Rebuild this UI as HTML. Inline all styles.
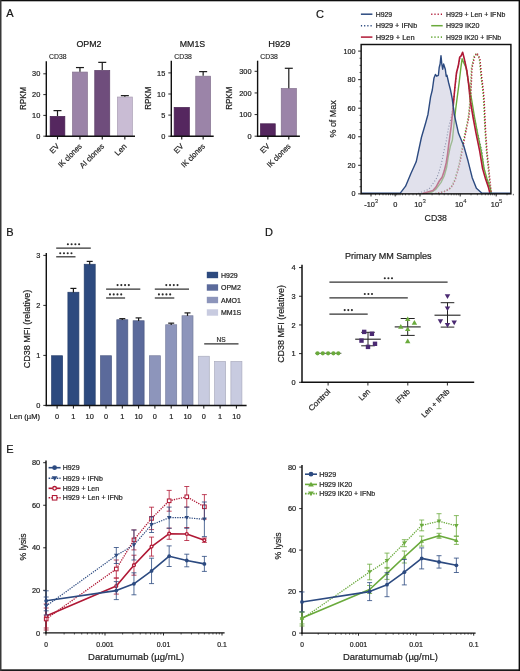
<!DOCTYPE html>
<html><head><meta charset="utf-8"><style>
html,body{margin:0;padding:0;background:#fff;}
svg{display:block;will-change:transform;}
text{font-family:"Liberation Sans", sans-serif;stroke:#222;stroke-width:0.2px;}
</style></head><body>
<svg width="520" height="671" viewBox="0 0 520 671">
<rect x="0" y="0" width="520" height="671" fill="#fff"/>
<text x="6.2" y="17.3" font-size="11" text-anchor="start" fill="#111">A</text>
<line x1="43.3" y1="136.2" x2="46.3" y2="136.2" stroke="#111" stroke-width="0.9"/>
<text x="40.3" y="138.79999999999998" font-size="7.4" text-anchor="end" fill="#222">0</text>
<line x1="43.3" y1="115.39999999999999" x2="46.3" y2="115.39999999999999" stroke="#111" stroke-width="0.9"/>
<text x="40.3" y="117.99999999999999" font-size="7.4" text-anchor="end" fill="#222">10</text>
<line x1="43.3" y1="94.6" x2="46.3" y2="94.6" stroke="#111" stroke-width="0.9"/>
<text x="40.3" y="97.19999999999999" font-size="7.4" text-anchor="end" fill="#222">20</text>
<line x1="43.3" y1="73.79999999999998" x2="46.3" y2="73.79999999999998" stroke="#111" stroke-width="0.9"/>
<text x="40.3" y="76.39999999999998" font-size="7.4" text-anchor="end" fill="#222">30</text>
<rect x="50.15" y="116.37399999999998" width="14.700000000000006" height="19.826" fill="#55275f" stroke="#482150" stroke-width="0.7"/>
<line x1="57.5" y1="110.61599999999999" x2="57.5" y2="116.02399999999999" stroke="#1a1a1a" stroke-width="1.2"/>
<line x1="53.5" y1="110.61599999999999" x2="61.5" y2="110.61599999999999" stroke="#1a1a1a" stroke-width="1.2"/>
<line x1="57.5" y1="136.2" x2="57.5" y2="139.39999999999998" stroke="#111" stroke-width="1.1"/>
<text x="59.9" y="146.79999999999998" font-size="7.8" text-anchor="end" fill="#222" textLength="10" lengthAdjust="spacingAndGlyphs" transform="rotate(-45 59.9 146.79999999999998)">EV</text>
<rect x="72.55" y="72.06999999999998" width="14.8" height="64.13000000000001" fill="#9b84a8" stroke="#83708e" stroke-width="0.7"/>
<line x1="79.95" y1="67.55999999999999" x2="79.95" y2="71.71999999999998" stroke="#1a1a1a" stroke-width="1.2"/>
<line x1="75.95" y1="67.55999999999999" x2="83.95" y2="67.55999999999999" stroke="#1a1a1a" stroke-width="1.2"/>
<line x1="79.95" y1="136.2" x2="79.95" y2="139.39999999999998" stroke="#111" stroke-width="1.1"/>
<text x="82.35000000000001" y="146.79999999999998" font-size="7.8" text-anchor="end" fill="#222" textLength="30" lengthAdjust="spacingAndGlyphs" transform="rotate(-45 82.35000000000001 146.79999999999998)">IK clones</text>
<rect x="94.75" y="70.40599999999998" width="14.99999999999999" height="65.79400000000001" fill="#6f4d7c" stroke="#5e4169" stroke-width="0.7"/>
<line x1="102.25" y1="62.359999999999985" x2="102.25" y2="70.05599999999998" stroke="#1a1a1a" stroke-width="1.2"/>
<line x1="98.25" y1="62.359999999999985" x2="106.25" y2="62.359999999999985" stroke="#1a1a1a" stroke-width="1.2"/>
<line x1="102.25" y1="136.2" x2="102.25" y2="139.39999999999998" stroke="#111" stroke-width="1.1"/>
<text x="104.65" y="146.79999999999998" font-size="7.8" text-anchor="end" fill="#222" textLength="31" lengthAdjust="spacingAndGlyphs" transform="rotate(-45 104.65 146.79999999999998)">AI clones</text>
<rect x="117.35" y="97.02999999999997" width="14.99999999999999" height="39.17000000000001" fill="#c9bcd4" stroke="#aa9fb4" stroke-width="0.7"/>
<line x1="124.85" y1="95.63999999999999" x2="124.85" y2="96.67999999999998" stroke="#1a1a1a" stroke-width="1.2"/>
<line x1="120.85" y1="95.63999999999999" x2="128.85" y2="95.63999999999999" stroke="#1a1a1a" stroke-width="1.2"/>
<line x1="124.85" y1="136.2" x2="124.85" y2="139.39999999999998" stroke="#111" stroke-width="1.1"/>
<text x="127.25" y="146.79999999999998" font-size="7.8" text-anchor="end" fill="#222" textLength="13.5" lengthAdjust="spacingAndGlyphs" transform="rotate(-45 127.25 146.79999999999998)">Len</text>
<line x1="46.3" y1="61.2" x2="46.3" y2="136.89999999999998" stroke="#111" stroke-width="1.4"/>
<line x1="45.599999999999994" y1="136.2" x2="135" y2="136.2" stroke="#111" stroke-width="1.45"/>
<text x="76.4" y="47.3" font-size="9.6" text-anchor="start" fill="#111" textLength="25.1" lengthAdjust="spacingAndGlyphs">OPM2</text>
<text x="49" y="58.8" font-size="6.6" text-anchor="start" fill="#222" textLength="17.5" lengthAdjust="spacingAndGlyphs" style="stroke-width:0.12px">CD38</text>
<text x="25.7" y="98.4" font-size="8.6" text-anchor="middle" fill="#222" textLength="23.2" lengthAdjust="spacingAndGlyphs" transform="rotate(-90 25.7 98.4)">RPKM</text>
<line x1="168.3" y1="136.2" x2="171.3" y2="136.2" stroke="#111" stroke-width="0.9"/>
<text x="165.3" y="138.79999999999998" font-size="7.4" text-anchor="end" fill="#222">0</text>
<line x1="168.3" y1="115.1" x2="171.3" y2="115.1" stroke="#111" stroke-width="0.9"/>
<text x="165.3" y="117.69999999999999" font-size="7.4" text-anchor="end" fill="#222">5</text>
<line x1="168.3" y1="94.0" x2="171.3" y2="94.0" stroke="#111" stroke-width="0.9"/>
<text x="165.3" y="96.6" font-size="7.4" text-anchor="end" fill="#222">10</text>
<line x1="168.3" y1="72.89999999999999" x2="171.3" y2="72.89999999999999" stroke="#111" stroke-width="0.9"/>
<text x="165.3" y="75.49999999999999" font-size="7.4" text-anchor="end" fill="#222">15</text>
<rect x="174.15" y="107.43199999999999" width="15.199999999999978" height="28.767999999999994" fill="#55275f" stroke="#482150" stroke-width="0.7"/>
<line x1="181.75" y1="136.2" x2="181.75" y2="139.39999999999998" stroke="#111" stroke-width="1.1"/>
<text x="184.15" y="146.79999999999998" font-size="7.8" text-anchor="end" fill="#222" textLength="10" lengthAdjust="spacingAndGlyphs" transform="rotate(-45 184.15 146.79999999999998)">EV</text>
<rect x="195.75" y="76.20399999999998" width="14.8" height="59.996" fill="#9b84a8" stroke="#83708e" stroke-width="0.7"/>
<line x1="203.15" y1="71.63399999999999" x2="203.15" y2="75.85399999999998" stroke="#1a1a1a" stroke-width="1.2"/>
<line x1="199.15" y1="71.63399999999999" x2="207.15" y2="71.63399999999999" stroke="#1a1a1a" stroke-width="1.2"/>
<line x1="203.15" y1="136.2" x2="203.15" y2="139.39999999999998" stroke="#111" stroke-width="1.1"/>
<text x="205.55" y="146.79999999999998" font-size="7.8" text-anchor="end" fill="#222" textLength="30" lengthAdjust="spacingAndGlyphs" transform="rotate(-45 205.55 146.79999999999998)">IK clones</text>
<line x1="171.3" y1="60.7" x2="171.3" y2="136.89999999999998" stroke="#111" stroke-width="1.4"/>
<line x1="170.60000000000002" y1="136.2" x2="213.7" y2="136.2" stroke="#111" stroke-width="1.45"/>
<text x="179.8" y="47.3" font-size="9.6" text-anchor="start" fill="#111" textLength="25.4" lengthAdjust="spacingAndGlyphs">MM1S</text>
<text x="174.3" y="58.8" font-size="6.6" text-anchor="start" fill="#222" textLength="17.5" lengthAdjust="spacingAndGlyphs" style="stroke-width:0.12px">CD38</text>
<text x="150.8" y="98.2" font-size="8.6" text-anchor="middle" fill="#222" textLength="23.2" lengthAdjust="spacingAndGlyphs" transform="rotate(-90 150.8 98.2)">RPKM</text>
<line x1="254.60000000000002" y1="136.2" x2="257.6" y2="136.2" stroke="#111" stroke-width="0.9"/>
<text x="251.60000000000002" y="138.79999999999998" font-size="7.4" text-anchor="end" fill="#222">0</text>
<line x1="254.60000000000002" y1="114.57" x2="257.6" y2="114.57" stroke="#111" stroke-width="0.9"/>
<text x="251.60000000000002" y="117.16999999999999" font-size="7.4" text-anchor="end" fill="#222">100</text>
<line x1="254.60000000000002" y1="92.94" x2="257.6" y2="92.94" stroke="#111" stroke-width="0.9"/>
<text x="251.60000000000002" y="95.53999999999999" font-size="7.4" text-anchor="end" fill="#222">200</text>
<line x1="254.60000000000002" y1="71.30999999999999" x2="257.6" y2="71.30999999999999" stroke="#111" stroke-width="0.9"/>
<text x="251.60000000000002" y="73.90999999999998" font-size="7.4" text-anchor="end" fill="#222">300</text>
<rect x="260.45000000000005" y="123.78829999999998" width="14.8" height="12.411700000000005" fill="#55275f" stroke="#482150" stroke-width="0.7"/>
<line x1="267.85" y1="136.2" x2="267.85" y2="139.39999999999998" stroke="#111" stroke-width="1.1"/>
<text x="270.25" y="146.79999999999998" font-size="7.8" text-anchor="end" fill="#222" textLength="10" lengthAdjust="spacingAndGlyphs" transform="rotate(-45 270.25 146.79999999999998)">EV</text>
<rect x="281.25" y="88.53139999999999" width="15.100000000000012" height="47.66859999999999" fill="#9b84a8" stroke="#83708e" stroke-width="0.7"/>
<line x1="288.79999999999995" y1="68.28179999999999" x2="288.79999999999995" y2="88.1814" stroke="#1a1a1a" stroke-width="1.2"/>
<line x1="284.79999999999995" y1="68.28179999999999" x2="292.79999999999995" y2="68.28179999999999" stroke="#1a1a1a" stroke-width="1.2"/>
<line x1="288.79999999999995" y1="136.2" x2="288.79999999999995" y2="139.39999999999998" stroke="#111" stroke-width="1.1"/>
<text x="291.19999999999993" y="146.79999999999998" font-size="7.8" text-anchor="end" fill="#222" textLength="30" lengthAdjust="spacingAndGlyphs" transform="rotate(-45 291.19999999999993 146.79999999999998)">IK clones</text>
<line x1="257.6" y1="60.7" x2="257.6" y2="136.89999999999998" stroke="#111" stroke-width="1.4"/>
<line x1="256.90000000000003" y1="136.2" x2="299.9" y2="136.2" stroke="#111" stroke-width="1.45"/>
<text x="268.2" y="47.3" font-size="9.6" text-anchor="start" fill="#111" textLength="22.2" lengthAdjust="spacingAndGlyphs">H929</text>
<text x="260.3" y="58.8" font-size="6.6" text-anchor="start" fill="#222" textLength="17.5" lengthAdjust="spacingAndGlyphs" style="stroke-width:0.12px">CD38</text>
<text x="232.2" y="98.2" font-size="8.6" text-anchor="middle" fill="#222" textLength="23.2" lengthAdjust="spacingAndGlyphs" transform="rotate(-90 232.2 98.2)">RPKM</text>
<text x="6.3" y="236.2" font-size="11" text-anchor="start" fill="#111">B</text>
<line x1="43.3" y1="405.4" x2="46.3" y2="405.4" stroke="#111" stroke-width="0.9"/>
<text x="40.4" y="408.0" font-size="7.4" text-anchor="end" fill="#222">0</text>
<line x1="43.3" y1="355.4" x2="46.3" y2="355.4" stroke="#111" stroke-width="0.9"/>
<text x="40.4" y="358.0" font-size="7.4" text-anchor="end" fill="#222">1</text>
<line x1="43.3" y1="305.4" x2="46.3" y2="305.4" stroke="#111" stroke-width="0.9"/>
<text x="40.4" y="308.0" font-size="7.4" text-anchor="end" fill="#222">2</text>
<line x1="43.3" y1="255.39999999999998" x2="46.3" y2="255.39999999999998" stroke="#111" stroke-width="0.9"/>
<text x="40.4" y="258.0" font-size="7.4" text-anchor="end" fill="#222">3</text>
<text x="30.0" y="329.0" font-size="8.8" text-anchor="middle" fill="#222" textLength="78.7" lengthAdjust="spacingAndGlyphs" transform="rotate(-90 30.0 329.0)">CD38 MFI (relative)</text>
<text x="9.5" y="418.8" font-size="7.8" text-anchor="start" fill="#222" textLength="30.5" lengthAdjust="spacingAndGlyphs">Len (µM)</text>
<rect x="51.6" y="355.75" width="11.0" height="49.65" fill="#2d4a7f" stroke="#263e6b" stroke-width="0.7"/>
<line x1="57.1" y1="405.4" x2="57.1" y2="408.59999999999997" stroke="#111" stroke-width="1.0"/>
<text x="57.1" y="418.8" font-size="7.4" text-anchor="middle" fill="#222">0</text>
<rect x="67.9" y="292.25" width="11.0" height="113.15" fill="#2d4a7f" stroke="#263e6b" stroke-width="0.7"/>
<line x1="73.4" y1="288.4" x2="73.4" y2="292.4" stroke="#1a1a1a" stroke-width="1.2"/>
<line x1="70.4" y1="288.4" x2="76.4" y2="288.4" stroke="#1a1a1a" stroke-width="1.2"/>
<line x1="73.4" y1="405.4" x2="73.4" y2="408.59999999999997" stroke="#111" stroke-width="1.0"/>
<text x="73.4" y="418.8" font-size="7.4" text-anchor="middle" fill="#222">1</text>
<rect x="84.2" y="264.25" width="11.0" height="141.15" fill="#2d4a7f" stroke="#263e6b" stroke-width="0.7"/>
<line x1="89.7" y1="261.4" x2="89.7" y2="264.4" stroke="#1a1a1a" stroke-width="1.2"/>
<line x1="86.7" y1="261.4" x2="92.7" y2="261.4" stroke="#1a1a1a" stroke-width="1.2"/>
<line x1="89.7" y1="405.4" x2="89.7" y2="408.59999999999997" stroke="#111" stroke-width="1.0"/>
<text x="89.7" y="418.8" font-size="7.4" text-anchor="middle" fill="#222">10</text>
<rect x="100.5" y="355.75" width="11.0" height="49.65" fill="#5b6a9b" stroke="#4d5a83" stroke-width="0.7"/>
<line x1="106.0" y1="405.4" x2="106.0" y2="408.59999999999997" stroke="#111" stroke-width="1.0"/>
<text x="106.0" y="418.8" font-size="7.4" text-anchor="middle" fill="#222">0</text>
<rect x="116.80000000000001" y="319.75" width="11.0" height="85.65" fill="#5b6a9b" stroke="#4d5a83" stroke-width="0.7"/>
<line x1="122.30000000000001" y1="318.65" x2="122.30000000000001" y2="319.9" stroke="#1a1a1a" stroke-width="1.2"/>
<line x1="119.30000000000001" y1="318.65" x2="125.30000000000001" y2="318.65" stroke="#1a1a1a" stroke-width="1.2"/>
<line x1="122.30000000000001" y1="405.4" x2="122.30000000000001" y2="408.59999999999997" stroke="#111" stroke-width="1.0"/>
<text x="122.30000000000001" y="418.8" font-size="7.4" text-anchor="middle" fill="#222">1</text>
<rect x="133.1" y="320.75" width="11.0" height="84.65" fill="#5b6a9b" stroke="#4d5a83" stroke-width="0.7"/>
<line x1="138.6" y1="317.9" x2="138.6" y2="320.9" stroke="#1a1a1a" stroke-width="1.2"/>
<line x1="135.6" y1="317.9" x2="141.6" y2="317.9" stroke="#1a1a1a" stroke-width="1.2"/>
<line x1="138.6" y1="405.4" x2="138.6" y2="408.59999999999997" stroke="#111" stroke-width="1.0"/>
<text x="138.6" y="418.8" font-size="7.4" text-anchor="middle" fill="#222">10</text>
<rect x="149.4" y="355.75" width="11.0" height="49.65" fill="#8d95bb" stroke="#777e9e" stroke-width="0.7"/>
<line x1="154.9" y1="405.4" x2="154.9" y2="408.59999999999997" stroke="#111" stroke-width="1.0"/>
<text x="154.9" y="418.8" font-size="7.4" text-anchor="middle" fill="#222">0</text>
<rect x="165.70000000000002" y="324.75" width="11.0" height="80.65" fill="#8d95bb" stroke="#777e9e" stroke-width="0.7"/>
<line x1="171.20000000000002" y1="323.15" x2="171.20000000000002" y2="324.9" stroke="#1a1a1a" stroke-width="1.2"/>
<line x1="168.20000000000002" y1="323.15" x2="174.20000000000002" y2="323.15" stroke="#1a1a1a" stroke-width="1.2"/>
<line x1="171.20000000000002" y1="405.4" x2="171.20000000000002" y2="408.59999999999997" stroke="#111" stroke-width="1.0"/>
<text x="171.20000000000002" y="418.8" font-size="7.4" text-anchor="middle" fill="#222">1</text>
<rect x="182.0" y="315.75" width="11.0" height="89.65" fill="#8d95bb" stroke="#777e9e" stroke-width="0.7"/>
<line x1="187.5" y1="312.9" x2="187.5" y2="315.9" stroke="#1a1a1a" stroke-width="1.2"/>
<line x1="184.5" y1="312.9" x2="190.5" y2="312.9" stroke="#1a1a1a" stroke-width="1.2"/>
<line x1="187.5" y1="405.4" x2="187.5" y2="408.59999999999997" stroke="#111" stroke-width="1.0"/>
<text x="187.5" y="418.8" font-size="7.4" text-anchor="middle" fill="#222">10</text>
<rect x="198.3" y="356.25" width="11.0" height="49.15" fill="#c8cbe0" stroke="#aaacbe" stroke-width="0.7"/>
<line x1="203.8" y1="405.4" x2="203.8" y2="408.59999999999997" stroke="#111" stroke-width="1.0"/>
<text x="203.8" y="418.8" font-size="7.4" text-anchor="middle" fill="#222">0</text>
<rect x="214.6" y="361.5" width="11.0" height="43.9" fill="#c8cbe0" stroke="#aaacbe" stroke-width="0.7"/>
<line x1="220.1" y1="405.4" x2="220.1" y2="408.59999999999997" stroke="#111" stroke-width="1.0"/>
<text x="220.1" y="418.8" font-size="7.4" text-anchor="middle" fill="#222">1</text>
<rect x="230.9" y="361.5" width="11.0" height="43.9" fill="#c8cbe0" stroke="#aaacbe" stroke-width="0.7"/>
<line x1="236.4" y1="405.4" x2="236.4" y2="408.59999999999997" stroke="#111" stroke-width="1.0"/>
<text x="236.4" y="418.8" font-size="7.4" text-anchor="middle" fill="#222">10</text>
<line x1="46.3" y1="253.0" x2="46.3" y2="406.09999999999997" stroke="#111" stroke-width="1.45"/>
<line x1="45.599999999999994" y1="405.4" x2="246.6" y2="405.4" stroke="#111" stroke-width="1.45"/>
<line x1="56.2" y1="248.2" x2="90.8" y2="248.2" stroke="#333" stroke-width="1.25"/>
<line x1="56.2" y1="256.8" x2="75.5" y2="256.8" stroke="#333" stroke-width="1.25"/>
<circle cx="67.88" cy="244.29999999999998" r="1.05" fill="#2a2a2a"/>
<circle cx="71.62" cy="244.29999999999998" r="1.05" fill="#2a2a2a"/>
<circle cx="75.38" cy="244.29999999999998" r="1.05" fill="#2a2a2a"/>
<circle cx="79.12" cy="244.29999999999998" r="1.05" fill="#2a2a2a"/>
<circle cx="60.22" cy="253.20000000000002" r="1.05" fill="#2a2a2a"/>
<circle cx="63.97" cy="253.20000000000002" r="1.05" fill="#2a2a2a"/>
<circle cx="67.72" cy="253.20000000000002" r="1.05" fill="#2a2a2a"/>
<circle cx="71.47" cy="253.20000000000002" r="1.05" fill="#2a2a2a"/>
<line x1="106.1" y1="289.0" x2="140.3" y2="289.0" stroke="#333" stroke-width="1.25"/>
<line x1="106.1" y1="298.0" x2="125.1" y2="298.0" stroke="#333" stroke-width="1.25"/>
<circle cx="117.58" cy="285.1" r="1.05" fill="#2a2a2a"/>
<circle cx="121.33" cy="285.1" r="1.05" fill="#2a2a2a"/>
<circle cx="125.08" cy="285.1" r="1.05" fill="#2a2a2a"/>
<circle cx="128.82" cy="285.1" r="1.05" fill="#2a2a2a"/>
<circle cx="109.97" cy="294.4" r="1.05" fill="#2a2a2a"/>
<circle cx="113.72" cy="294.4" r="1.05" fill="#2a2a2a"/>
<circle cx="117.47" cy="294.4" r="1.05" fill="#2a2a2a"/>
<circle cx="121.22" cy="294.4" r="1.05" fill="#2a2a2a"/>
<line x1="154.8" y1="289.0" x2="189" y2="289.0" stroke="#333" stroke-width="1.25"/>
<line x1="154.8" y1="298.0" x2="174.3" y2="298.0" stroke="#333" stroke-width="1.25"/>
<circle cx="166.28" cy="285.1" r="1.05" fill="#2a2a2a"/>
<circle cx="170.03" cy="285.1" r="1.05" fill="#2a2a2a"/>
<circle cx="173.78" cy="285.1" r="1.05" fill="#2a2a2a"/>
<circle cx="177.53" cy="285.1" r="1.05" fill="#2a2a2a"/>
<circle cx="158.93" cy="294.4" r="1.05" fill="#2a2a2a"/>
<circle cx="162.68" cy="294.4" r="1.05" fill="#2a2a2a"/>
<circle cx="166.43" cy="294.4" r="1.05" fill="#2a2a2a"/>
<circle cx="170.18" cy="294.4" r="1.05" fill="#2a2a2a"/>
<line x1="204.2" y1="343.9" x2="238.5" y2="343.9" stroke="#333" stroke-width="1.25"/>
<text x="221.2" y="341.6" font-size="6.6" text-anchor="middle" fill="#333">NS</text>
<rect x="206.8" y="271.8" width="11.3" height="6.4" fill="#2d4a7f"/>
<text x="221.0" y="277.5" font-size="7.0" text-anchor="start" fill="#222">H929</text>
<rect x="206.8" y="284.3" width="11.3" height="6.4" fill="#5b6a9b"/>
<text x="221.0" y="290.0" font-size="7.0" text-anchor="start" fill="#222">OPM2</text>
<rect x="206.8" y="296.8" width="11.3" height="6.4" fill="#8d95bb"/>
<text x="221.0" y="302.5" font-size="7.0" text-anchor="start" fill="#222">AMO1</text>
<rect x="206.8" y="309.3" width="11.3" height="6.4" fill="#c8cbe0"/>
<text x="221.0" y="315.0" font-size="7.0" text-anchor="start" fill="#222">MM1S</text>
<text x="315.9" y="17.5" font-size="11" text-anchor="start" fill="#111">C</text>
<line x1="358.15" y1="193.85" x2="361.15" y2="193.85" stroke="#111" stroke-width="0.9"/>
<text x="355.6" y="196.35" font-size="7.2" text-anchor="end" fill="#222">0</text>
<line x1="359.54999999999995" y1="186.7125" x2="361.15" y2="186.7125" stroke="#111" stroke-width="0.7"/>
<line x1="359.54999999999995" y1="179.575" x2="361.15" y2="179.575" stroke="#111" stroke-width="0.7"/>
<line x1="359.54999999999995" y1="172.4375" x2="361.15" y2="172.4375" stroke="#111" stroke-width="0.7"/>
<line x1="358.15" y1="165.29999999999998" x2="361.15" y2="165.29999999999998" stroke="#111" stroke-width="0.9"/>
<text x="355.6" y="167.79999999999998" font-size="7.2" text-anchor="end" fill="#222">20</text>
<line x1="359.54999999999995" y1="158.1625" x2="361.15" y2="158.1625" stroke="#111" stroke-width="0.7"/>
<line x1="359.54999999999995" y1="151.02499999999998" x2="361.15" y2="151.02499999999998" stroke="#111" stroke-width="0.7"/>
<line x1="359.54999999999995" y1="143.8875" x2="361.15" y2="143.8875" stroke="#111" stroke-width="0.7"/>
<line x1="358.15" y1="136.75" x2="361.15" y2="136.75" stroke="#111" stroke-width="0.9"/>
<text x="355.6" y="139.25" font-size="7.2" text-anchor="end" fill="#222">40</text>
<line x1="359.54999999999995" y1="129.6125" x2="361.15" y2="129.6125" stroke="#111" stroke-width="0.7"/>
<line x1="359.54999999999995" y1="122.475" x2="361.15" y2="122.475" stroke="#111" stroke-width="0.7"/>
<line x1="359.54999999999995" y1="115.33749999999999" x2="361.15" y2="115.33749999999999" stroke="#111" stroke-width="0.7"/>
<line x1="358.15" y1="108.19999999999999" x2="361.15" y2="108.19999999999999" stroke="#111" stroke-width="0.9"/>
<text x="355.6" y="110.69999999999999" font-size="7.2" text-anchor="end" fill="#222">60</text>
<line x1="359.54999999999995" y1="101.0625" x2="361.15" y2="101.0625" stroke="#111" stroke-width="0.7"/>
<line x1="359.54999999999995" y1="93.925" x2="361.15" y2="93.925" stroke="#111" stroke-width="0.7"/>
<line x1="359.54999999999995" y1="86.7875" x2="361.15" y2="86.7875" stroke="#111" stroke-width="0.7"/>
<line x1="358.15" y1="79.64999999999999" x2="361.15" y2="79.64999999999999" stroke="#111" stroke-width="0.9"/>
<text x="355.6" y="82.14999999999999" font-size="7.2" text-anchor="end" fill="#222">80</text>
<line x1="359.54999999999995" y1="72.51249999999999" x2="361.15" y2="72.51249999999999" stroke="#111" stroke-width="0.7"/>
<line x1="359.54999999999995" y1="65.375" x2="361.15" y2="65.375" stroke="#111" stroke-width="0.7"/>
<line x1="359.54999999999995" y1="58.23749999999998" x2="361.15" y2="58.23749999999998" stroke="#111" stroke-width="0.7"/>
<line x1="358.15" y1="51.099999999999994" x2="361.15" y2="51.099999999999994" stroke="#111" stroke-width="0.9"/>
<text x="355.6" y="53.599999999999994" font-size="7.2" text-anchor="end" fill="#222">100</text>
<text x="336.3" y="118.9" font-size="9.2" text-anchor="middle" fill="#222" textLength="37.3" lengthAdjust="spacingAndGlyphs" transform="rotate(-90 336.3 118.9)">% of Max</text>
<line x1="371.0" y1="193.85" x2="371.0" y2="196.45" stroke="#111" stroke-width="0.9"/>
<line x1="395.2" y1="193.85" x2="395.2" y2="196.45" stroke="#111" stroke-width="0.9"/>
<line x1="420.0" y1="193.85" x2="420.0" y2="196.45" stroke="#111" stroke-width="0.9"/>
<line x1="460.2" y1="193.85" x2="460.2" y2="196.45" stroke="#111" stroke-width="0.9"/>
<line x1="496.2" y1="193.85" x2="496.2" y2="196.45" stroke="#111" stroke-width="0.9"/>
<line x1="375.5" y1="193.85" x2="375.5" y2="195.35" stroke="#111" stroke-width="0.6"/>
<line x1="379.5" y1="193.85" x2="379.5" y2="195.35" stroke="#111" stroke-width="0.6"/>
<line x1="383" y1="193.85" x2="383" y2="195.35" stroke="#111" stroke-width="0.6"/>
<line x1="386" y1="193.85" x2="386" y2="195.35" stroke="#111" stroke-width="0.6"/>
<line x1="388.5" y1="193.85" x2="388.5" y2="195.35" stroke="#111" stroke-width="0.6"/>
<line x1="390.5" y1="193.85" x2="390.5" y2="195.35" stroke="#111" stroke-width="0.6"/>
<line x1="392.5" y1="193.85" x2="392.5" y2="195.35" stroke="#111" stroke-width="0.6"/>
<line x1="394" y1="193.85" x2="394" y2="195.35" stroke="#111" stroke-width="0.6"/>
<line x1="396.5" y1="193.85" x2="396.5" y2="195.35" stroke="#111" stroke-width="0.6"/>
<line x1="398" y1="193.85" x2="398" y2="195.35" stroke="#111" stroke-width="0.6"/>
<line x1="400" y1="193.85" x2="400" y2="195.35" stroke="#111" stroke-width="0.6"/>
<line x1="402.5" y1="193.85" x2="402.5" y2="195.35" stroke="#111" stroke-width="0.6"/>
<line x1="405.5" y1="193.85" x2="405.5" y2="195.35" stroke="#111" stroke-width="0.6"/>
<line x1="409" y1="193.85" x2="409" y2="195.35" stroke="#111" stroke-width="0.6"/>
<line x1="413" y1="193.85" x2="413" y2="195.35" stroke="#111" stroke-width="0.6"/>
<line x1="416.5" y1="193.85" x2="416.5" y2="195.35" stroke="#111" stroke-width="0.6"/>
<line x1="432.10140582569204" y1="193.85" x2="432.10140582569204" y2="195.35" stroke="#111" stroke-width="0.6"/>
<line x1="471.0370798439033" y1="193.85" x2="471.0370798439033" y2="195.35" stroke="#111" stroke-width="0.6"/>
<line x1="439.18027443973045" y1="193.85" x2="439.18027443973045" y2="195.35" stroke="#111" stroke-width="0.6"/>
<line x1="477.37636516990784" y1="193.85" x2="477.37636516990784" y2="195.35" stroke="#111" stroke-width="0.6"/>
<line x1="444.2028116513841" y1="193.85" x2="444.2028116513841" y2="195.35" stroke="#111" stroke-width="0.6"/>
<line x1="481.87415968780664" y1="193.85" x2="481.87415968780664" y2="195.35" stroke="#111" stroke-width="0.6"/>
<line x1="448.09859417430795" y1="193.85" x2="448.09859417430795" y2="195.35" stroke="#111" stroke-width="0.6"/>
<line x1="485.36292015609666" y1="193.85" x2="485.36292015609666" y2="195.35" stroke="#111" stroke-width="0.6"/>
<line x1="451.2816802654225" y1="193.85" x2="451.2816802654225" y2="195.35" stroke="#111" stroke-width="0.6"/>
<line x1="488.21344501381117" y1="193.85" x2="488.21344501381117" y2="195.35" stroke="#111" stroke-width="0.6"/>
<line x1="453.9729412085731" y1="193.85" x2="453.9729412085731" y2="195.35" stroke="#111" stroke-width="0.6"/>
<line x1="490.6235294405132" y1="193.85" x2="490.6235294405132" y2="195.35" stroke="#111" stroke-width="0.6"/>
<line x1="456.3042174770761" y1="193.85" x2="456.3042174770761" y2="195.35" stroke="#111" stroke-width="0.6"/>
<line x1="492.71123953170996" y1="193.85" x2="492.71123953170996" y2="195.35" stroke="#111" stroke-width="0.6"/>
<line x1="458.36054887946085" y1="193.85" x2="458.36054887946085" y2="195.35" stroke="#111" stroke-width="0.6"/>
<line x1="494.5527303398157" y1="193.85" x2="494.5527303398157" y2="195.35" stroke="#111" stroke-width="0.6"/>
<line x1="507.0370798439033" y1="193.85" x2="507.0370798439033" y2="195.35" stroke="#111" stroke-width="0.6"/>
<line x1="513.3763651699078" y1="193.85" x2="513.3763651699078" y2="195.35" stroke="#111" stroke-width="0.6"/>
<text x="371.2" y="206.6" font-size="7.4" text-anchor="middle" fill="#222">-10<tspan font-size="6.0" dy="-3.2" style="stroke-width:0.05px">3</tspan></text>
<text x="395.2" y="206.6" font-size="7.4" text-anchor="middle" fill="#222">0</text>
<text x="420.0" y="206.6" font-size="7.4" text-anchor="middle" fill="#222">10<tspan font-size="6.0" dy="-3.2" style="stroke-width:0.05px">3</tspan></text>
<text x="460.8" y="206.6" font-size="7.4" text-anchor="middle" fill="#222">10<tspan font-size="6.0" dy="-3.2" style="stroke-width:0.05px">4</tspan></text>
<text x="496.6" y="206.6" font-size="7.4" text-anchor="middle" fill="#222">10<tspan font-size="6.0" dy="-3.2" style="stroke-width:0.05px">5</tspan></text>
<text x="424.6" y="221.0" font-size="9.8" text-anchor="start" fill="#222" textLength="22.3" lengthAdjust="spacingAndGlyphs">CD38</text>
<line x1="360.9" y1="14.2" x2="372.4" y2="14.2" stroke="#2c4a80" stroke-width="1.5"/>
<text x="375.7" y="16.7" font-size="7.0" text-anchor="start" fill="#222" textLength="16.5" lengthAdjust="spacingAndGlyphs">H929</text>
<line x1="360.9" y1="25.7" x2="372.4" y2="25.7" stroke="#2c4a80" stroke-width="1.6" stroke-dasharray="1.2 2.0"/>
<text x="375.7" y="28.2" font-size="7.0" text-anchor="start" fill="#222" textLength="41.5" lengthAdjust="spacingAndGlyphs">H929 + IFNb</text>
<line x1="360.9" y1="37.1" x2="372.4" y2="37.1" stroke="#b01835" stroke-width="1.5"/>
<text x="375.7" y="39.6" font-size="7.0" text-anchor="start" fill="#222" textLength="39" lengthAdjust="spacingAndGlyphs">H929 + Len</text>
<line x1="431.2" y1="14.2" x2="442.7" y2="14.2" stroke="#b01835" stroke-width="1.6" stroke-dasharray="1.2 2.0"/>
<text x="446.0" y="16.7" font-size="7.0" text-anchor="start" fill="#222" textLength="59.3" lengthAdjust="spacingAndGlyphs">H929 + Len + IFNb</text>
<line x1="431.2" y1="25.7" x2="442.7" y2="25.7" stroke="#6aaa3c" stroke-width="1.5"/>
<text x="446.0" y="28.2" font-size="7.0" text-anchor="start" fill="#222" textLength="33.5" lengthAdjust="spacingAndGlyphs">H929 IK20</text>
<line x1="431.2" y1="37.1" x2="442.7" y2="37.1" stroke="#6aaa3c" stroke-width="1.6" stroke-dasharray="1.2 2.0"/>
<text x="446.0" y="39.6" font-size="7.0" text-anchor="start" fill="#222" textLength="55" lengthAdjust="spacingAndGlyphs">H929 IK20 + IFNb</text>
<polyline points="418.3,193.4 428.8,189.3 436.0,179.3 438.5,173.6 441.3,163.8 442.6,158.0 443.8,151.5 446.2,141.2 448.5,128.0 452.1,114.2 454.8,90.0 456.5,74.0 458.3,66.0 460.0,58.0 462.6,53.0 464.3,59.0 466.9,71.0 468.7,84.8 471.5,108.0 474.6,119.0 478.0,135.0 481.9,151.0 484.0,168.0 488.6,188.3 490.5,193.4" fill="none" stroke="#3c4a6a" stroke-width="1.1" stroke-linejoin="round" stroke-dasharray="1 2"/>
<polyline points="426.0,193.4 432.0,192.0 436.0,189.2 440.9,182.6 444.2,176.0 446.7,167.0 448.3,156.4 450.3,146.6 452.4,140.0 453.8,126.0 455.7,109.0 459.1,83.0 460.9,67.5 462.1,58.8 463.5,62.3 466.0,67.5 468.7,83.0 471.7,100.0 474.6,117.5 477.6,133.6 481.2,151.1 484.1,168.6 487.0,178.8 490.0,187.6 491.4,193.3" fill="none" stroke="#6aaa3c" stroke-width="1.4" stroke-linejoin="round"/>
<polyline points="422.5,193.4 433.1,190.4 436.0,187.1 439.3,181.0 442.1,177.3 444.2,171.1 446.2,163.0 447.5,154.8 448.7,144.9 451.1,126.9 453.1,107.3 454.8,88.3 456.5,72.7 458.3,65.8 459.7,57.1 460.9,56.2 462.6,52.3 464.3,58.8 466.9,71.0 468.7,84.8 470.2,100.0 473.1,117.5 476.1,133.6 479.7,151.1 482.6,168.6 485.5,178.8 488.5,187.6 489.9,193.3" fill="none" stroke="#b01835" stroke-width="1.6" stroke-linejoin="round"/>
<polyline points="435.5,193.3 440.4,192.5 443.7,191.6 447.0,190.0 450.3,188.0 452.3,185.1 453.9,181.8 455.2,178.5 456.0,175.2 457.0,172.4 458.0,168.3 458.9,165.0 459.7,161.3 460.5,157.2 462.4,146.7 465.3,132.1 468.3,117.5 470.0,100.0 471.6,67.5 474.2,56.2 476.5,53.3 478.2,56.2 479.4,58.8 481.1,76.2 482.9,91.7 483.6,100.0 485.0,129.2 486.5,151.1 488.0,165.7 489.4,180.3 490.9,193.3" fill="none" stroke="#6aaa3c" stroke-width="1.5" stroke-linejoin="round" stroke-dasharray="1.1 1.9"/>
<polyline points="436.0,193.3 440.9,192.5 444.2,191.6 447.5,190.0 450.8,188.0 452.8,185.1 454.4,181.8 455.7,178.5 456.5,175.2 457.5,172.4 458.5,168.3 459.4,165.0 460.2,161.3 461.0,157.2 462.9,146.7 465.8,132.1 468.8,117.5 470.5,100.0 472.1,67.5 474.7,56.2 477.0,53.3 478.7,56.2 479.9,58.8 481.6,76.2 483.4,91.7 484.1,100.0 485.5,129.2 487.0,151.1 488.5,165.7 489.9,180.3 491.4,193.3" fill="none" stroke="#b01835" stroke-width="1.5" stroke-dasharray="1.1 1.9" stroke-dashoffset="1.0"/>
<polygon points="361.5,193.3 398.0,193.3 400.3,193.2 405.6,186.2 410.9,173.5 416.2,161.8 421.4,137.5 425.7,122.7 428.0,114.2 430.6,96.9 432.3,90.0 434.0,77.9 435.4,74.4 436.6,76.2 438.4,75.3 439.2,67.5 440.1,64.0 441.0,55.7 441.8,64.0 442.7,69.2 443.6,64.0 445.3,69.2 446.2,76.2 447.0,75.3 448.7,83.0 450.5,90.0 452.2,98.7 453.9,110.8 454.2,114.2 458.5,133.3 463.8,146.0 468.0,160.8 472.2,177.7 476.4,188.3 481.7,193.1 510.5,193.3" fill="#c8c8dc" fill-opacity="0.55" stroke="none"/>
<polyline points="361.5,193.3 398.0,193.3 400.3,193.2 405.6,186.2 410.9,173.5 416.2,161.8 421.4,137.5 425.7,122.7 428.0,114.2 430.6,96.9 432.3,90.0 434.0,77.9 435.4,74.4 436.6,76.2 438.4,75.3 439.2,67.5 440.1,64.0 441.0,55.7 441.8,64.0 442.7,69.2 443.6,64.0 445.3,69.2 446.2,76.2 447.0,75.3 448.7,83.0 450.5,90.0 452.2,98.7 453.9,110.8 454.2,114.2 458.5,133.3 463.8,146.0 468.0,160.8 472.2,177.7 476.4,188.3 481.7,193.1 510.5,193.3" fill="none" stroke="#2c4a80" stroke-width="1.4" stroke-linejoin="round"/>
<rect x="361.15" y="44.5" width="149.75" height="149.35" fill="none" stroke="#111" stroke-width="1.45"/>
<text x="265.1" y="235.9" font-size="11" text-anchor="start" fill="#111">D</text>
<text x="345.0" y="258.8" font-size="9.4" text-anchor="start" fill="#222" textLength="86.5" lengthAdjust="spacingAndGlyphs">Primary MM Samples</text>
<line x1="302.0" y1="264.8" x2="302.0" y2="383.0" stroke="#111" stroke-width="1.5"/>
<line x1="301.3" y1="382.3" x2="474.2" y2="382.3" stroke="#111" stroke-width="1.4"/>
<line x1="299.0" y1="382.3" x2="302.0" y2="382.3" stroke="#111" stroke-width="0.9"/>
<text x="295.6" y="384.90000000000003" font-size="7.4" text-anchor="end" fill="#222">0</text>
<line x1="299.0" y1="353.62" x2="302.0" y2="353.62" stroke="#111" stroke-width="0.9"/>
<text x="295.6" y="356.22" font-size="7.4" text-anchor="end" fill="#222">1</text>
<line x1="299.0" y1="324.94" x2="302.0" y2="324.94" stroke="#111" stroke-width="0.9"/>
<text x="295.6" y="327.54" font-size="7.4" text-anchor="end" fill="#222">2</text>
<line x1="299.0" y1="296.26" x2="302.0" y2="296.26" stroke="#111" stroke-width="0.9"/>
<text x="295.6" y="298.86" font-size="7.4" text-anchor="end" fill="#222">3</text>
<line x1="299.0" y1="267.58000000000004" x2="302.0" y2="267.58000000000004" stroke="#111" stroke-width="0.9"/>
<text x="295.6" y="270.18000000000006" font-size="7.4" text-anchor="end" fill="#222">4</text>
<text x="283.9" y="324.0" font-size="8.6" text-anchor="middle" fill="#222" textLength="77.7" lengthAdjust="spacingAndGlyphs" transform="rotate(-90 283.9 324.0)">CD38 MFI (relative)</text>
<line x1="328.1" y1="382.3" x2="328.1" y2="385.5" stroke="#111" stroke-width="0.9"/>
<text x="330.90000000000003" y="392.1" font-size="7.6" text-anchor="end" fill="#222" textLength="27.5" lengthAdjust="spacingAndGlyphs" transform="rotate(-45 330.90000000000003 392.1)">Control</text>
<line x1="367.9" y1="382.3" x2="367.9" y2="385.5" stroke="#111" stroke-width="0.9"/>
<text x="370.7" y="392.1" font-size="7.6" text-anchor="end" fill="#222" textLength="12.5" lengthAdjust="spacingAndGlyphs" transform="rotate(-45 370.7 392.1)">Len</text>
<line x1="407.8" y1="382.3" x2="407.8" y2="385.5" stroke="#111" stroke-width="0.9"/>
<text x="410.6" y="392.1" font-size="7.6" text-anchor="end" fill="#222" textLength="17" lengthAdjust="spacingAndGlyphs" transform="rotate(-45 410.6 392.1)">IFNb</text>
<line x1="447.4" y1="382.3" x2="447.4" y2="385.5" stroke="#111" stroke-width="0.9"/>
<text x="450.2" y="392.1" font-size="7.6" text-anchor="end" fill="#222" textLength="36.5" lengthAdjust="spacingAndGlyphs" transform="rotate(-45 450.2 392.1)">Len + IFNb</text>
<line x1="329.4" y1="282.1" x2="447.6" y2="282.1" stroke="#333" stroke-width="1.25"/>
<circle cx="384.80" cy="278.20000000000005" r="1.05" fill="#2a2a2a"/>
<circle cx="388.40" cy="278.20000000000005" r="1.05" fill="#2a2a2a"/>
<circle cx="392.00" cy="278.20000000000005" r="1.05" fill="#2a2a2a"/>
<line x1="329.4" y1="297.9" x2="407.8" y2="297.9" stroke="#333" stroke-width="1.25"/>
<circle cx="364.80" cy="294.0" r="1.05" fill="#2a2a2a"/>
<circle cx="368.40" cy="294.0" r="1.05" fill="#2a2a2a"/>
<circle cx="372.00" cy="294.0" r="1.05" fill="#2a2a2a"/>
<line x1="329.4" y1="314.0" x2="367.7" y2="314.0" stroke="#333" stroke-width="1.25"/>
<circle cx="344.70" cy="310.1" r="1.05" fill="#2a2a2a"/>
<circle cx="348.30" cy="310.1" r="1.05" fill="#2a2a2a"/>
<circle cx="351.90" cy="310.1" r="1.05" fill="#2a2a2a"/>
<line x1="315.4" y1="353.3" x2="341.4" y2="353.3" stroke="#555" stroke-width="1.0"/>
<circle cx="317.5" cy="353.3" r="2.1" fill="#6aaa3c"/>
<circle cx="322.8" cy="353.3" r="2.1" fill="#6aaa3c"/>
<circle cx="328.1" cy="353.3" r="2.1" fill="#6aaa3c"/>
<circle cx="333.4" cy="353.3" r="2.1" fill="#6aaa3c"/>
<circle cx="338.3" cy="353.3" r="2.1" fill="#6aaa3c"/>
<line x1="355.2" y1="339.2" x2="380.8" y2="339.2" stroke="#222" stroke-width="1.1"/>
<line x1="368.0" y1="332.3" x2="368.0" y2="345.8" stroke="#222" stroke-width="1.0"/>
<line x1="361.2" y1="332.3" x2="374.8" y2="332.3" stroke="#222" stroke-width="1.0"/>
<line x1="361.2" y1="345.8" x2="374.8" y2="345.8" stroke="#222" stroke-width="1.0"/>
<rect x="362.0" y="329.7" width="4.4" height="4.4" fill="#4b2a72"/>
<rect x="369.7" y="331.6" width="4.4" height="4.4" fill="#4b2a72"/>
<rect x="359.3" y="338.40000000000003" width="4.4" height="4.4" fill="#4b2a72"/>
<rect x="372.8" y="341.6" width="4.4" height="4.4" fill="#4b2a72"/>
<rect x="365.8" y="344.7" width="4.4" height="4.4" fill="#4b2a72"/>
<line x1="394.7" y1="326.9" x2="420.7" y2="326.9" stroke="#222" stroke-width="1.1"/>
<line x1="407.7" y1="318.5" x2="407.7" y2="335.4" stroke="#222" stroke-width="1.0"/>
<line x1="400.7" y1="318.5" x2="414.7" y2="318.5" stroke="#222" stroke-width="1.0"/>
<line x1="400.7" y1="335.4" x2="414.7" y2="335.4" stroke="#222" stroke-width="1.0"/>
<polygon points="407.7,316.4 404.96999999999997,321.08 410.43,321.08" fill="#6aaa3c"/>
<polygon points="414.4,320.09999999999997 411.66999999999996,324.78 417.13,324.78" fill="#6aaa3c"/>
<polygon points="400.8,324.09999999999997 398.07,328.78 403.53000000000003,328.78" fill="#6aaa3c"/>
<polygon points="407.7,326.4 404.96999999999997,331.08 410.43,331.08" fill="#6aaa3c"/>
<polygon points="407.7,338.59999999999997 404.96999999999997,343.28 410.43,343.28" fill="#6aaa3c"/>
<line x1="434.5" y1="315.2" x2="460.5" y2="315.2" stroke="#222" stroke-width="1.1"/>
<line x1="447.5" y1="302.7" x2="447.5" y2="327.1" stroke="#222" stroke-width="1.0"/>
<line x1="440.7" y1="302.7" x2="454.3" y2="302.7" stroke="#222" stroke-width="1.0"/>
<line x1="440.7" y1="327.1" x2="454.3" y2="327.1" stroke="#222" stroke-width="1.0"/>
<polygon points="447.5,298.90000000000003 444.77,294.22 450.23,294.22" fill="#4b2a72"/>
<polygon points="447.5,311.1 444.77,306.42 450.23,306.42" fill="#4b2a72"/>
<polygon points="440.4,323.90000000000003 437.66999999999996,319.22 443.13,319.22" fill="#4b2a72"/>
<polygon points="454.2,325.3 451.46999999999997,320.62 456.93,320.62" fill="#4b2a72"/>
<polygon points="447.5,327.8 444.77,323.12 450.23,323.12" fill="#4b2a72"/>
<text x="6.25" y="452.6" font-size="11" text-anchor="start" fill="#111">E</text>
<line x1="46.0" y1="460.5" x2="46.0" y2="633.6" stroke="#111" stroke-width="1.45"/>
<line x1="45.3" y1="632.9" x2="224.6" y2="632.9" stroke="#111" stroke-width="1.4"/>
<line x1="43.2" y1="632.9" x2="46.0" y2="632.9" stroke="#111" stroke-width="0.9"/>
<text x="40.2" y="635.5" font-size="7.4" text-anchor="end" fill="#222">0</text>
<line x1="43.2" y1="590.35" x2="46.0" y2="590.35" stroke="#111" stroke-width="0.9"/>
<text x="40.2" y="592.95" font-size="7.4" text-anchor="end" fill="#222">20</text>
<line x1="43.2" y1="547.8" x2="46.0" y2="547.8" stroke="#111" stroke-width="0.9"/>
<text x="40.2" y="550.4" font-size="7.4" text-anchor="end" fill="#222">40</text>
<line x1="43.2" y1="505.25" x2="46.0" y2="505.25" stroke="#111" stroke-width="0.9"/>
<text x="40.2" y="507.85" font-size="7.4" text-anchor="end" fill="#222">60</text>
<line x1="43.2" y1="462.7" x2="46.0" y2="462.7" stroke="#111" stroke-width="0.9"/>
<text x="40.2" y="465.3" font-size="7.4" text-anchor="end" fill="#222">80</text>
<text x="25.7" y="546.9" font-size="9.3" text-anchor="middle" fill="#222" textLength="27" lengthAdjust="spacingAndGlyphs" transform="rotate(-90 25.7 546.9)">% lysis</text>
<line x1="46.0" y1="632.9" x2="46.0" y2="635.5" stroke="#111" stroke-width="0.9"/>
<line x1="105.0" y1="632.9" x2="105.0" y2="635.5" stroke="#111" stroke-width="0.9"/>
<line x1="163.5" y1="632.9" x2="163.5" y2="635.5" stroke="#111" stroke-width="0.9"/>
<line x1="222.0" y1="632.9" x2="222.0" y2="635.5" stroke="#111" stroke-width="0.9"/>
<line x1="64.1102547463429" y1="632.9" x2="64.1102547463429" y2="634.5" stroke="#111" stroke-width="0.7"/>
<line x1="74.41159340110025" y1="632.9" x2="74.41159340110025" y2="634.5" stroke="#111" stroke-width="0.7"/>
<line x1="81.7205094926858" y1="632.9" x2="81.7205094926858" y2="634.5" stroke="#111" stroke-width="0.7"/>
<line x1="87.38974525365711" y1="632.9" x2="87.38974525365711" y2="634.5" stroke="#111" stroke-width="0.7"/>
<line x1="92.02184814744315" y1="632.9" x2="92.02184814744315" y2="634.5" stroke="#111" stroke-width="0.7"/>
<line x1="95.93823534083403" y1="632.9" x2="95.93823534083403" y2="634.5" stroke="#111" stroke-width="0.7"/>
<line x1="99.3307642390287" y1="632.9" x2="99.3307642390287" y2="634.5" stroke="#111" stroke-width="0.7"/>
<line x1="102.32318680220051" y1="632.9" x2="102.32318680220051" y2="634.5" stroke="#111" stroke-width="0.7"/>
<line x1="122.6102547463429" y1="632.9" x2="122.6102547463429" y2="634.5" stroke="#111" stroke-width="0.7"/>
<line x1="132.91159340110025" y1="632.9" x2="132.91159340110025" y2="634.5" stroke="#111" stroke-width="0.7"/>
<line x1="140.2205094926858" y1="632.9" x2="140.2205094926858" y2="634.5" stroke="#111" stroke-width="0.7"/>
<line x1="145.8897452536571" y1="632.9" x2="145.8897452536571" y2="634.5" stroke="#111" stroke-width="0.7"/>
<line x1="150.52184814744317" y1="632.9" x2="150.52184814744317" y2="634.5" stroke="#111" stroke-width="0.7"/>
<line x1="154.438235340834" y1="632.9" x2="154.438235340834" y2="634.5" stroke="#111" stroke-width="0.7"/>
<line x1="157.8307642390287" y1="632.9" x2="157.8307642390287" y2="634.5" stroke="#111" stroke-width="0.7"/>
<line x1="160.8231868022005" y1="632.9" x2="160.8231868022005" y2="634.5" stroke="#111" stroke-width="0.7"/>
<line x1="181.1102547463429" y1="632.9" x2="181.1102547463429" y2="634.5" stroke="#111" stroke-width="0.7"/>
<line x1="191.41159340110025" y1="632.9" x2="191.41159340110025" y2="634.5" stroke="#111" stroke-width="0.7"/>
<line x1="198.7205094926858" y1="632.9" x2="198.7205094926858" y2="634.5" stroke="#111" stroke-width="0.7"/>
<line x1="204.3897452536571" y1="632.9" x2="204.3897452536571" y2="634.5" stroke="#111" stroke-width="0.7"/>
<line x1="209.02184814744317" y1="632.9" x2="209.02184814744317" y2="634.5" stroke="#111" stroke-width="0.7"/>
<line x1="212.938235340834" y1="632.9" x2="212.938235340834" y2="634.5" stroke="#111" stroke-width="0.7"/>
<line x1="216.3307642390287" y1="632.9" x2="216.3307642390287" y2="634.5" stroke="#111" stroke-width="0.7"/>
<line x1="219.3231868022005" y1="632.9" x2="219.3231868022005" y2="634.5" stroke="#111" stroke-width="0.7"/>
<text x="46.0" y="646.6" font-size="6.6" text-anchor="middle" fill="#222">0</text>
<text x="105.0" y="646.6" font-size="6.6" text-anchor="middle" fill="#222" textLength="17.3" lengthAdjust="spacingAndGlyphs">0.001</text>
<text x="163.5" y="646.6" font-size="6.6" text-anchor="middle" fill="#222" textLength="13.5" lengthAdjust="spacingAndGlyphs">0.01</text>
<text x="222.0" y="646.6" font-size="6.6" text-anchor="middle" fill="#222" textLength="9.5" lengthAdjust="spacingAndGlyphs">0.1</text>
<text x="88.0" y="660.2" font-size="9.4" text-anchor="start" fill="#222" textLength="96.2" lengthAdjust="spacingAndGlyphs">Daratumumab (µg/mL)</text>
<line x1="48.6" y1="467.7" x2="60.6" y2="467.7" stroke="#2c4a80" stroke-width="1.6"/>
<circle cx="54.6" cy="467.7" r="2.38" fill="#2c4a80"/>
<text x="62.8" y="470.2" font-size="7.2" text-anchor="start" fill="#222" textLength="16.8" lengthAdjust="spacingAndGlyphs">H929</text>
<line x1="48.6" y1="478.3" x2="60.6" y2="478.3" stroke="#2c4a80" stroke-width="1.6" stroke-dasharray="1.6 1.1"/>
<polygon points="54.6,480.93 51.73,476.18 57.48,476.18" fill="#2c4a80"/>
<text x="62.8" y="480.8" font-size="7.2" text-anchor="start" fill="#222" textLength="40" lengthAdjust="spacingAndGlyphs">H929 + IFNb</text>
<line x1="48.6" y1="488.3" x2="60.6" y2="488.3" stroke="#b01835" stroke-width="1.6"/>
<circle cx="54.6" cy="488.3" r="1.81" fill="#fff" stroke="#b01835" stroke-width="1.3"/>
<text x="62.8" y="490.8" font-size="7.2" text-anchor="start" fill="#222" textLength="36.3" lengthAdjust="spacingAndGlyphs">H929 + Len</text>
<line x1="48.6" y1="497.8" x2="60.6" y2="497.8" stroke="#b01835" stroke-width="1.6" stroke-dasharray="1.6 1.1"/>
<rect x="52.35" y="495.55" width="4.50" height="4.50" fill="#fff" stroke="#b01835" stroke-width="1.05"/>
<text x="62.8" y="500.3" font-size="7.2" text-anchor="start" fill="#222" textLength="60" lengthAdjust="spacingAndGlyphs">H929 + Len + IFNb</text>
<line x1="46.2" y1="608" x2="46.2" y2="630" stroke="#b01835" stroke-width="1.0" stroke-opacity="0.8"/>
<line x1="43.7" y1="608" x2="48.7" y2="608" stroke="#b01835" stroke-width="1.0" stroke-opacity="0.8"/>
<line x1="43.7" y1="630" x2="48.7" y2="630" stroke="#b01835" stroke-width="1.0" stroke-opacity="0.8"/>
<line x1="116.297789003736" y1="560" x2="116.297789003736" y2="578" stroke="#b01835" stroke-width="1.0" stroke-opacity="0.8"/>
<line x1="113.797789003736" y1="560" x2="118.797789003736" y2="560" stroke="#b01835" stroke-width="1.0" stroke-opacity="0.8"/>
<line x1="113.797789003736" y1="578" x2="118.797789003736" y2="578" stroke="#b01835" stroke-width="1.0" stroke-opacity="0.8"/>
<line x1="133.9487262682855" y1="529.9" x2="133.9487262682855" y2="549.9" stroke="#b01835" stroke-width="1.0" stroke-opacity="0.8"/>
<line x1="131.4487262682855" y1="529.9" x2="136.4487262682855" y2="529.9" stroke="#b01835" stroke-width="1.0" stroke-opacity="0.8"/>
<line x1="131.4487262682855" y1="549.9" x2="136.4487262682855" y2="549.9" stroke="#b01835" stroke-width="1.0" stroke-opacity="0.8"/>
<line x1="151.5589810146284" y1="507.2" x2="151.5589810146284" y2="529.6" stroke="#b01835" stroke-width="1.0" stroke-opacity="0.8"/>
<line x1="149.0589810146284" y1="507.2" x2="154.0589810146284" y2="507.2" stroke="#b01835" stroke-width="1.0" stroke-opacity="0.8"/>
<line x1="149.0589810146284" y1="529.6" x2="154.0589810146284" y2="529.6" stroke="#b01835" stroke-width="1.0" stroke-opacity="0.8"/>
<line x1="169.1692357609713" y1="490.40000000000003" x2="169.1692357609713" y2="511.2" stroke="#b01835" stroke-width="1.0" stroke-opacity="0.8"/>
<line x1="166.6692357609713" y1="490.40000000000003" x2="171.6692357609713" y2="490.40000000000003" stroke="#b01835" stroke-width="1.0" stroke-opacity="0.8"/>
<line x1="166.6692357609713" y1="511.2" x2="171.6692357609713" y2="511.2" stroke="#b01835" stroke-width="1.0" stroke-opacity="0.8"/>
<line x1="186.77949050731422" y1="486.5" x2="186.77949050731422" y2="507.1" stroke="#b01835" stroke-width="1.0" stroke-opacity="0.8"/>
<line x1="184.27949050731422" y1="486.5" x2="189.27949050731422" y2="486.5" stroke="#b01835" stroke-width="1.0" stroke-opacity="0.8"/>
<line x1="184.27949050731422" y1="507.1" x2="189.27949050731422" y2="507.1" stroke="#b01835" stroke-width="1.0" stroke-opacity="0.8"/>
<line x1="204.3897452536571" y1="494.6" x2="204.3897452536571" y2="519.0" stroke="#b01835" stroke-width="1.0" stroke-opacity="0.8"/>
<line x1="201.8897452536571" y1="494.6" x2="206.8897452536571" y2="494.6" stroke="#b01835" stroke-width="1.0" stroke-opacity="0.8"/>
<line x1="201.8897452536571" y1="519.0" x2="206.8897452536571" y2="519.0" stroke="#b01835" stroke-width="1.0" stroke-opacity="0.8"/>
<polyline points="46.2,619.0 116.3,569.0 133.9,539.9 151.6,518.4 169.2,500.8 186.8,496.8 204.4,506.8" fill="none" stroke="#b01835" stroke-width="1.3" stroke-linejoin="round" stroke-dasharray="1.3 1.1"/>
<rect x="44.40" y="617.20" width="3.60" height="3.60" fill="#fff" stroke="#b01835" stroke-width="1.05"/>
<rect x="114.50" y="567.20" width="3.60" height="3.60" fill="#fff" stroke="#b01835" stroke-width="1.05"/>
<rect x="132.15" y="538.10" width="3.60" height="3.60" fill="#fff" stroke="#b01835" stroke-width="1.05"/>
<rect x="149.76" y="516.60" width="3.60" height="3.60" fill="#fff" stroke="#b01835" stroke-width="1.05"/>
<rect x="167.37" y="499.00" width="3.60" height="3.60" fill="#fff" stroke="#b01835" stroke-width="1.05"/>
<rect x="184.98" y="495.00" width="3.60" height="3.60" fill="#fff" stroke="#b01835" stroke-width="1.05"/>
<rect x="202.59" y="505.00" width="3.60" height="3.60" fill="#fff" stroke="#b01835" stroke-width="1.05"/>
<line x1="46.2" y1="604" x2="46.2" y2="628" stroke="#b01835" stroke-width="1.0" stroke-opacity="0.8"/>
<line x1="43.7" y1="604" x2="48.7" y2="604" stroke="#b01835" stroke-width="1.0" stroke-opacity="0.8"/>
<line x1="43.7" y1="628" x2="48.7" y2="628" stroke="#b01835" stroke-width="1.0" stroke-opacity="0.8"/>
<line x1="116.297789003736" y1="578.1" x2="116.297789003736" y2="594.1" stroke="#b01835" stroke-width="1.0" stroke-opacity="0.8"/>
<line x1="113.797789003736" y1="578.1" x2="118.797789003736" y2="578.1" stroke="#b01835" stroke-width="1.0" stroke-opacity="0.8"/>
<line x1="113.797789003736" y1="594.1" x2="118.797789003736" y2="594.1" stroke="#b01835" stroke-width="1.0" stroke-opacity="0.8"/>
<line x1="133.9487262682855" y1="555.2" x2="133.9487262682855" y2="575.2" stroke="#b01835" stroke-width="1.0" stroke-opacity="0.8"/>
<line x1="131.4487262682855" y1="555.2" x2="136.4487262682855" y2="555.2" stroke="#b01835" stroke-width="1.0" stroke-opacity="0.8"/>
<line x1="131.4487262682855" y1="575.2" x2="136.4487262682855" y2="575.2" stroke="#b01835" stroke-width="1.0" stroke-opacity="0.8"/>
<line x1="151.5589810146284" y1="537.1" x2="151.5589810146284" y2="556.1" stroke="#b01835" stroke-width="1.0" stroke-opacity="0.8"/>
<line x1="149.0589810146284" y1="537.1" x2="154.0589810146284" y2="537.1" stroke="#b01835" stroke-width="1.0" stroke-opacity="0.8"/>
<line x1="149.0589810146284" y1="556.1" x2="154.0589810146284" y2="556.1" stroke="#b01835" stroke-width="1.0" stroke-opacity="0.8"/>
<line x1="169.1692357609713" y1="528.1" x2="169.1692357609713" y2="539.3000000000001" stroke="#b01835" stroke-width="1.0" stroke-opacity="0.8"/>
<line x1="166.6692357609713" y1="528.1" x2="171.6692357609713" y2="528.1" stroke="#b01835" stroke-width="1.0" stroke-opacity="0.8"/>
<line x1="166.6692357609713" y1="539.3000000000001" x2="171.6692357609713" y2="539.3000000000001" stroke="#b01835" stroke-width="1.0" stroke-opacity="0.8"/>
<line x1="186.77949050731422" y1="527.5" x2="186.77949050731422" y2="540.5" stroke="#b01835" stroke-width="1.0" stroke-opacity="0.8"/>
<line x1="184.27949050731422" y1="527.5" x2="189.27949050731422" y2="527.5" stroke="#b01835" stroke-width="1.0" stroke-opacity="0.8"/>
<line x1="184.27949050731422" y1="540.5" x2="189.27949050731422" y2="540.5" stroke="#b01835" stroke-width="1.0" stroke-opacity="0.8"/>
<line x1="204.3897452536571" y1="538.0" x2="204.3897452536571" y2="542.4000000000001" stroke="#b01835" stroke-width="1.0" stroke-opacity="0.8"/>
<line x1="201.8897452536571" y1="538.0" x2="206.8897452536571" y2="538.0" stroke="#b01835" stroke-width="1.0" stroke-opacity="0.8"/>
<line x1="201.8897452536571" y1="542.4000000000001" x2="206.8897452536571" y2="542.4000000000001" stroke="#b01835" stroke-width="1.0" stroke-opacity="0.8"/>
<polyline points="46.2,616.0 116.3,586.1 133.9,565.2 151.6,546.6 169.2,533.7 186.8,534.0 204.4,540.2" fill="none" stroke="#b01835" stroke-width="1.6" stroke-linejoin="round"/>
<circle cx="46.2" cy="616" r="1.45" fill="#fff" stroke="#b01835" stroke-width="1.3"/>
<circle cx="116.297789003736" cy="586.1" r="1.45" fill="#fff" stroke="#b01835" stroke-width="1.3"/>
<circle cx="133.9487262682855" cy="565.2" r="1.45" fill="#fff" stroke="#b01835" stroke-width="1.3"/>
<circle cx="151.5589810146284" cy="546.6" r="1.45" fill="#fff" stroke="#b01835" stroke-width="1.3"/>
<circle cx="169.1692357609713" cy="533.7" r="1.45" fill="#fff" stroke="#b01835" stroke-width="1.3"/>
<circle cx="186.77949050731422" cy="534" r="1.45" fill="#fff" stroke="#b01835" stroke-width="1.3"/>
<circle cx="204.3897452536571" cy="540.2" r="1.45" fill="#fff" stroke="#b01835" stroke-width="1.3"/>
<line x1="46.2" y1="597" x2="46.2" y2="615" stroke="#2c4a80" stroke-width="1.0" stroke-opacity="0.8"/>
<line x1="43.7" y1="597" x2="48.7" y2="597" stroke="#2c4a80" stroke-width="1.0" stroke-opacity="0.8"/>
<line x1="43.7" y1="615" x2="48.7" y2="615" stroke="#2c4a80" stroke-width="1.0" stroke-opacity="0.8"/>
<line x1="116.297789003736" y1="547.5" x2="116.297789003736" y2="563.5" stroke="#2c4a80" stroke-width="1.0" stroke-opacity="0.8"/>
<line x1="113.797789003736" y1="547.5" x2="118.797789003736" y2="547.5" stroke="#2c4a80" stroke-width="1.0" stroke-opacity="0.8"/>
<line x1="113.797789003736" y1="563.5" x2="118.797789003736" y2="563.5" stroke="#2c4a80" stroke-width="1.0" stroke-opacity="0.8"/>
<line x1="133.9487262682855" y1="530" x2="133.9487262682855" y2="560" stroke="#2c4a80" stroke-width="1.0" stroke-opacity="0.8"/>
<line x1="131.4487262682855" y1="530" x2="136.4487262682855" y2="530" stroke="#2c4a80" stroke-width="1.0" stroke-opacity="0.8"/>
<line x1="131.4487262682855" y1="560" x2="136.4487262682855" y2="560" stroke="#2c4a80" stroke-width="1.0" stroke-opacity="0.8"/>
<line x1="151.5589810146284" y1="516.9000000000001" x2="151.5589810146284" y2="532.5" stroke="#2c4a80" stroke-width="1.0" stroke-opacity="0.8"/>
<line x1="149.0589810146284" y1="516.9000000000001" x2="154.0589810146284" y2="516.9000000000001" stroke="#2c4a80" stroke-width="1.0" stroke-opacity="0.8"/>
<line x1="149.0589810146284" y1="532.5" x2="154.0589810146284" y2="532.5" stroke="#2c4a80" stroke-width="1.0" stroke-opacity="0.8"/>
<line x1="169.1692357609713" y1="507.1" x2="169.1692357609713" y2="528.3000000000001" stroke="#2c4a80" stroke-width="1.0" stroke-opacity="0.8"/>
<line x1="166.6692357609713" y1="507.1" x2="171.6692357609713" y2="507.1" stroke="#2c4a80" stroke-width="1.0" stroke-opacity="0.8"/>
<line x1="166.6692357609713" y1="528.3000000000001" x2="171.6692357609713" y2="528.3000000000001" stroke="#2c4a80" stroke-width="1.0" stroke-opacity="0.8"/>
<line x1="186.77949050731422" y1="507.1" x2="186.77949050731422" y2="528.3000000000001" stroke="#2c4a80" stroke-width="1.0" stroke-opacity="0.8"/>
<line x1="184.27949050731422" y1="507.1" x2="189.27949050731422" y2="507.1" stroke="#2c4a80" stroke-width="1.0" stroke-opacity="0.8"/>
<line x1="184.27949050731422" y1="528.3000000000001" x2="189.27949050731422" y2="528.3000000000001" stroke="#2c4a80" stroke-width="1.0" stroke-opacity="0.8"/>
<line x1="204.3897452536571" y1="501.99999999999994" x2="204.3897452536571" y2="536.5999999999999" stroke="#2c4a80" stroke-width="1.0" stroke-opacity="0.8"/>
<line x1="201.8897452536571" y1="501.99999999999994" x2="206.8897452536571" y2="501.99999999999994" stroke="#2c4a80" stroke-width="1.0" stroke-opacity="0.8"/>
<line x1="201.8897452536571" y1="536.5999999999999" x2="206.8897452536571" y2="536.5999999999999" stroke="#2c4a80" stroke-width="1.0" stroke-opacity="0.8"/>
<polyline points="46.2,606.0 116.3,555.5 133.9,545.0 151.6,524.7 169.2,517.7 186.8,517.7 204.4,519.3" fill="none" stroke="#2c4a80" stroke-width="1.2" stroke-linejoin="round" stroke-dasharray="1.3 1.1"/>
<polygon points="46.2,608.10 43.90,604.30 48.50,604.30" fill="#2c4a80"/>
<polygon points="116.297789003736,557.60 114.00,553.80 118.60,553.80" fill="#2c4a80"/>
<polygon points="133.9487262682855,547.10 131.65,543.30 136.25,543.30" fill="#2c4a80"/>
<polygon points="151.5589810146284,526.80 149.26,523.00 153.86,523.00" fill="#2c4a80"/>
<polygon points="169.1692357609713,519.80 166.87,516.00 171.47,516.00" fill="#2c4a80"/>
<polygon points="186.77949050731422,519.80 184.48,516.00 189.08,516.00" fill="#2c4a80"/>
<polygon points="204.3897452536571,521.40 202.09,517.60 206.69,517.60" fill="#2c4a80"/>
<line x1="46.2" y1="590.8" x2="46.2" y2="610.8" stroke="#2c4a80" stroke-width="1.0" stroke-opacity="0.8"/>
<line x1="43.7" y1="590.8" x2="48.7" y2="590.8" stroke="#2c4a80" stroke-width="1.0" stroke-opacity="0.8"/>
<line x1="43.7" y1="610.8" x2="48.7" y2="610.8" stroke="#2c4a80" stroke-width="1.0" stroke-opacity="0.8"/>
<line x1="116.297789003736" y1="581.6" x2="116.297789003736" y2="599.6" stroke="#2c4a80" stroke-width="1.0" stroke-opacity="0.8"/>
<line x1="113.797789003736" y1="581.6" x2="118.797789003736" y2="581.6" stroke="#2c4a80" stroke-width="1.0" stroke-opacity="0.8"/>
<line x1="113.797789003736" y1="599.6" x2="118.797789003736" y2="599.6" stroke="#2c4a80" stroke-width="1.0" stroke-opacity="0.8"/>
<line x1="133.9487262682855" y1="572.8" x2="133.9487262682855" y2="594.8" stroke="#2c4a80" stroke-width="1.0" stroke-opacity="0.8"/>
<line x1="131.4487262682855" y1="572.8" x2="136.4487262682855" y2="572.8" stroke="#2c4a80" stroke-width="1.0" stroke-opacity="0.8"/>
<line x1="131.4487262682855" y1="594.8" x2="136.4487262682855" y2="594.8" stroke="#2c4a80" stroke-width="1.0" stroke-opacity="0.8"/>
<line x1="151.5589810146284" y1="558.1999999999999" x2="151.5589810146284" y2="583.6" stroke="#2c4a80" stroke-width="1.0" stroke-opacity="0.8"/>
<line x1="149.0589810146284" y1="558.1999999999999" x2="154.0589810146284" y2="558.1999999999999" stroke="#2c4a80" stroke-width="1.0" stroke-opacity="0.8"/>
<line x1="149.0589810146284" y1="583.6" x2="154.0589810146284" y2="583.6" stroke="#2c4a80" stroke-width="1.0" stroke-opacity="0.8"/>
<line x1="169.1692357609713" y1="545.9000000000001" x2="169.1692357609713" y2="566.5" stroke="#2c4a80" stroke-width="1.0" stroke-opacity="0.8"/>
<line x1="166.6692357609713" y1="545.9000000000001" x2="171.6692357609713" y2="545.9000000000001" stroke="#2c4a80" stroke-width="1.0" stroke-opacity="0.8"/>
<line x1="166.6692357609713" y1="566.5" x2="171.6692357609713" y2="566.5" stroke="#2c4a80" stroke-width="1.0" stroke-opacity="0.8"/>
<line x1="186.77949050731422" y1="554.2" x2="186.77949050731422" y2="566.8" stroke="#2c4a80" stroke-width="1.0" stroke-opacity="0.8"/>
<line x1="184.27949050731422" y1="554.2" x2="189.27949050731422" y2="554.2" stroke="#2c4a80" stroke-width="1.0" stroke-opacity="0.8"/>
<line x1="184.27949050731422" y1="566.8" x2="189.27949050731422" y2="566.8" stroke="#2c4a80" stroke-width="1.0" stroke-opacity="0.8"/>
<line x1="204.3897452536571" y1="556.4" x2="204.3897452536571" y2="571.4" stroke="#2c4a80" stroke-width="1.0" stroke-opacity="0.8"/>
<line x1="201.8897452536571" y1="556.4" x2="206.8897452536571" y2="556.4" stroke="#2c4a80" stroke-width="1.0" stroke-opacity="0.8"/>
<line x1="201.8897452536571" y1="571.4" x2="206.8897452536571" y2="571.4" stroke="#2c4a80" stroke-width="1.0" stroke-opacity="0.8"/>
<polyline points="46.2,600.8 116.3,590.6 133.9,583.8 151.6,570.9 169.2,556.2 186.8,560.5 204.4,563.9" fill="none" stroke="#2c4a80" stroke-width="1.6" stroke-linejoin="round"/>
<circle cx="46.2" cy="600.8" r="1.90" fill="#2c4a80"/>
<circle cx="116.297789003736" cy="590.6" r="1.90" fill="#2c4a80"/>
<circle cx="133.9487262682855" cy="583.8" r="1.90" fill="#2c4a80"/>
<circle cx="151.5589810146284" cy="570.9" r="1.90" fill="#2c4a80"/>
<circle cx="169.1692357609713" cy="556.2" r="1.90" fill="#2c4a80"/>
<circle cx="186.77949050731422" cy="560.5" r="1.90" fill="#2c4a80"/>
<circle cx="204.3897452536571" cy="563.9" r="1.90" fill="#2c4a80"/>
<line x1="302.0" y1="465.0" x2="302.0" y2="633.8000000000001" stroke="#111" stroke-width="1.45"/>
<line x1="301.3" y1="633.1" x2="475.6" y2="633.1" stroke="#111" stroke-width="1.4"/>
<line x1="299.2" y1="633.1" x2="302.0" y2="633.1" stroke="#111" stroke-width="0.9"/>
<text x="296.2" y="635.7" font-size="7.4" text-anchor="end" fill="#222">0</text>
<line x1="299.2" y1="591.6" x2="302.0" y2="591.6" stroke="#111" stroke-width="0.9"/>
<text x="296.2" y="594.2" font-size="7.4" text-anchor="end" fill="#222">20</text>
<line x1="299.2" y1="550.1" x2="302.0" y2="550.1" stroke="#111" stroke-width="0.9"/>
<text x="296.2" y="552.7" font-size="7.4" text-anchor="end" fill="#222">40</text>
<line x1="299.2" y1="508.6" x2="302.0" y2="508.6" stroke="#111" stroke-width="0.9"/>
<text x="296.2" y="511.20000000000005" font-size="7.4" text-anchor="end" fill="#222">60</text>
<line x1="299.2" y1="467.1" x2="302.0" y2="467.1" stroke="#111" stroke-width="0.9"/>
<text x="296.2" y="469.70000000000005" font-size="7.4" text-anchor="end" fill="#222">80</text>
<text x="281.40000000000003" y="546.0" font-size="9.3" text-anchor="middle" fill="#222" textLength="27" lengthAdjust="spacingAndGlyphs" transform="rotate(-90 281.40000000000003 546.0)">% lysis</text>
<line x1="302.0" y1="633.1" x2="302.0" y2="635.7" stroke="#111" stroke-width="0.9"/>
<line x1="358.5" y1="633.1" x2="358.5" y2="635.7" stroke="#111" stroke-width="0.9"/>
<line x1="416.1" y1="633.1" x2="416.1" y2="635.7" stroke="#111" stroke-width="0.9"/>
<line x1="473.7" y1="633.1" x2="473.7" y2="635.7" stroke="#111" stroke-width="0.9"/>
<line x1="318.2393277502453" y1="633.1" x2="318.2393277502453" y2="634.7" stroke="#111" stroke-width="0.7"/>
<line x1="328.38218427185257" y1="633.1" x2="328.38218427185257" y2="634.7" stroke="#111" stroke-width="0.7"/>
<line x1="335.57865550049064" y1="633.1" x2="335.57865550049064" y2="634.7" stroke="#111" stroke-width="0.7"/>
<line x1="341.16067224975467" y1="633.1" x2="341.16067224975467" y2="634.7" stroke="#111" stroke-width="0.7"/>
<line x1="345.7215120220979" y1="633.1" x2="345.7215120220979" y2="634.7" stroke="#111" stroke-width="0.7"/>
<line x1="349.5776471048212" y1="633.1" x2="349.5776471048212" y2="634.7" stroke="#111" stroke-width="0.7"/>
<line x1="352.917983250736" y1="633.1" x2="352.917983250736" y2="634.7" stroke="#111" stroke-width="0.7"/>
<line x1="355.8643685437051" y1="633.1" x2="355.8643685437051" y2="634.7" stroke="#111" stroke-width="0.7"/>
<line x1="375.83932775024533" y1="633.1" x2="375.83932775024533" y2="634.7" stroke="#111" stroke-width="0.7"/>
<line x1="385.98218427185253" y1="633.1" x2="385.98218427185253" y2="634.7" stroke="#111" stroke-width="0.7"/>
<line x1="393.17865550049066" y1="633.1" x2="393.17865550049066" y2="634.7" stroke="#111" stroke-width="0.7"/>
<line x1="398.7606722497547" y1="633.1" x2="398.7606722497547" y2="634.7" stroke="#111" stroke-width="0.7"/>
<line x1="403.32151202209786" y1="633.1" x2="403.32151202209786" y2="634.7" stroke="#111" stroke-width="0.7"/>
<line x1="407.1776471048212" y1="633.1" x2="407.1776471048212" y2="634.7" stroke="#111" stroke-width="0.7"/>
<line x1="410.51798325073594" y1="633.1" x2="410.51798325073594" y2="634.7" stroke="#111" stroke-width="0.7"/>
<line x1="413.4643685437051" y1="633.1" x2="413.4643685437051" y2="634.7" stroke="#111" stroke-width="0.7"/>
<line x1="433.4393277502453" y1="633.1" x2="433.4393277502453" y2="634.7" stroke="#111" stroke-width="0.7"/>
<line x1="443.58218427185255" y1="633.1" x2="443.58218427185255" y2="634.7" stroke="#111" stroke-width="0.7"/>
<line x1="450.77865550049063" y1="633.1" x2="450.77865550049063" y2="634.7" stroke="#111" stroke-width="0.7"/>
<line x1="456.36067224975466" y1="633.1" x2="456.36067224975466" y2="634.7" stroke="#111" stroke-width="0.7"/>
<line x1="460.9215120220979" y1="633.1" x2="460.9215120220979" y2="634.7" stroke="#111" stroke-width="0.7"/>
<line x1="464.7776471048212" y1="633.1" x2="464.7776471048212" y2="634.7" stroke="#111" stroke-width="0.7"/>
<line x1="468.11798325073596" y1="633.1" x2="468.11798325073596" y2="634.7" stroke="#111" stroke-width="0.7"/>
<line x1="471.0643685437051" y1="633.1" x2="471.0643685437051" y2="634.7" stroke="#111" stroke-width="0.7"/>
<text x="302.0" y="646.6" font-size="6.6" text-anchor="middle" fill="#222">0</text>
<text x="358.5" y="646.6" font-size="6.6" text-anchor="middle" fill="#222" textLength="17.3" lengthAdjust="spacingAndGlyphs">0.001</text>
<text x="416.1" y="646.6" font-size="6.6" text-anchor="middle" fill="#222" textLength="13.5" lengthAdjust="spacingAndGlyphs">0.01</text>
<text x="473.7" y="646.6" font-size="6.6" text-anchor="middle" fill="#222" textLength="9.5" lengthAdjust="spacingAndGlyphs">0.1</text>
<text x="342.9" y="660.2" font-size="9.4" text-anchor="start" fill="#222" textLength="95.1" lengthAdjust="spacingAndGlyphs">Daratumumab (µg/mL)</text>
<line x1="305.0" y1="474.2" x2="317.0" y2="474.2" stroke="#2c4a80" stroke-width="1.6"/>
<circle cx="311.0" cy="474.2" r="2.38" fill="#2c4a80"/>
<text x="319.2" y="476.7" font-size="7.2" text-anchor="start" fill="#222" textLength="17" lengthAdjust="spacingAndGlyphs">H929</text>
<line x1="305.0" y1="484.4" x2="317.0" y2="484.4" stroke="#6aaa3c" stroke-width="1.6"/>
<polygon points="311.0,481.77 308.12,486.52 313.88,486.52" fill="#6aaa3c"/>
<text x="319.2" y="486.9" font-size="7.2" text-anchor="start" fill="#222" textLength="33" lengthAdjust="spacingAndGlyphs">H929 IK20</text>
<line x1="305.0" y1="493.6" x2="317.0" y2="493.6" stroke="#6aaa3c" stroke-width="1.6" stroke-dasharray="1.6 1.1"/>
<polygon points="311.0,496.23 308.12,491.48 313.88,491.48" fill="#6aaa3c"/>
<text x="319.2" y="496.1" font-size="7.2" text-anchor="start" fill="#222" textLength="56" lengthAdjust="spacingAndGlyphs">H929 IK20 + IFNb</text>
<line x1="302.0" y1="611.99" x2="302.0" y2="625.99" stroke="#6aaa3c" stroke-width="1.0" stroke-opacity="0.8"/>
<line x1="299.5" y1="611.99" x2="304.5" y2="611.99" stroke="#6aaa3c" stroke-width="1.0" stroke-opacity="0.8"/>
<line x1="299.5" y1="625.99" x2="304.5" y2="625.99" stroke="#6aaa3c" stroke-width="1.0" stroke-opacity="0.8"/>
<line x1="369.623976865217" y1="564.2" x2="369.623976865217" y2="579.8" stroke="#6aaa3c" stroke-width="1.0" stroke-opacity="0.8"/>
<line x1="367.123976865217" y1="564.2" x2="372.123976865217" y2="564.2" stroke="#6aaa3c" stroke-width="1.0" stroke-opacity="0.8"/>
<line x1="367.123976865217" y1="579.8" x2="372.123976865217" y2="579.8" stroke="#6aaa3c" stroke-width="1.0" stroke-opacity="0.8"/>
<line x1="387.00336124877344" y1="553.1" x2="387.00336124877344" y2="568.3000000000001" stroke="#6aaa3c" stroke-width="1.0" stroke-opacity="0.8"/>
<line x1="384.50336124877344" y1="553.1" x2="389.50336124877344" y2="553.1" stroke="#6aaa3c" stroke-width="1.0" stroke-opacity="0.8"/>
<line x1="384.50336124877344" y1="568.3000000000001" x2="389.50336124877344" y2="568.3000000000001" stroke="#6aaa3c" stroke-width="1.0" stroke-opacity="0.8"/>
<line x1="404.3426889990187" y1="539.7" x2="404.3426889990187" y2="546.7" stroke="#6aaa3c" stroke-width="1.0" stroke-opacity="0.8"/>
<line x1="401.8426889990187" y1="539.7" x2="406.8426889990187" y2="539.7" stroke="#6aaa3c" stroke-width="1.0" stroke-opacity="0.8"/>
<line x1="401.8426889990187" y1="546.7" x2="406.8426889990187" y2="546.7" stroke="#6aaa3c" stroke-width="1.0" stroke-opacity="0.8"/>
<line x1="421.68201674926405" y1="520.0" x2="421.68201674926405" y2="530.8" stroke="#6aaa3c" stroke-width="1.0" stroke-opacity="0.8"/>
<line x1="419.18201674926405" y1="520.0" x2="424.18201674926405" y2="520.0" stroke="#6aaa3c" stroke-width="1.0" stroke-opacity="0.8"/>
<line x1="419.18201674926405" y1="530.8" x2="424.18201674926405" y2="530.8" stroke="#6aaa3c" stroke-width="1.0" stroke-opacity="0.8"/>
<line x1="439.0213444995094" y1="513.7" x2="439.0213444995094" y2="528.7" stroke="#6aaa3c" stroke-width="1.0" stroke-opacity="0.8"/>
<line x1="436.5213444995094" y1="513.7" x2="441.5213444995094" y2="513.7" stroke="#6aaa3c" stroke-width="1.0" stroke-opacity="0.8"/>
<line x1="436.5213444995094" y1="528.7" x2="441.5213444995094" y2="528.7" stroke="#6aaa3c" stroke-width="1.0" stroke-opacity="0.8"/>
<line x1="456.36067224975466" y1="515.5999999999999" x2="456.36067224975466" y2="536.0" stroke="#6aaa3c" stroke-width="1.0" stroke-opacity="0.8"/>
<line x1="453.86067224975466" y1="515.5999999999999" x2="458.86067224975466" y2="515.5999999999999" stroke="#6aaa3c" stroke-width="1.0" stroke-opacity="0.8"/>
<line x1="453.86067224975466" y1="536.0" x2="458.86067224975466" y2="536.0" stroke="#6aaa3c" stroke-width="1.0" stroke-opacity="0.8"/>
<polyline points="302.0,619.0 369.6,572.0 387.0,560.7 404.3,543.2 421.7,525.4 439.0,521.2 456.4,525.8" fill="none" stroke="#6aaa3c" stroke-width="1.3" stroke-linejoin="round" stroke-dasharray="1.3 1.1"/>
<polygon points="302.0,621.09 299.70,617.29 304.30,617.29" fill="#6aaa3c"/>
<polygon points="369.623976865217,574.10 367.32,570.30 371.92,570.30" fill="#6aaa3c"/>
<polygon points="387.00336124877344,562.80 384.70,559.00 389.30,559.00" fill="#6aaa3c"/>
<polygon points="404.3426889990187,545.30 402.04,541.50 406.64,541.50" fill="#6aaa3c"/>
<polygon points="421.68201674926405,527.50 419.38,523.70 423.98,523.70" fill="#6aaa3c"/>
<polygon points="439.0213444995094,523.30 436.72,519.50 441.32,519.50" fill="#6aaa3c"/>
<polygon points="456.36067224975466,527.90 454.06,524.10 458.66,524.10" fill="#6aaa3c"/>
<line x1="302.0" y1="611.9525" x2="302.0" y2="623.9525" stroke="#6aaa3c" stroke-width="1.0" stroke-opacity="0.8"/>
<line x1="299.5" y1="611.9525" x2="304.5" y2="611.9525" stroke="#6aaa3c" stroke-width="1.0" stroke-opacity="0.8"/>
<line x1="299.5" y1="623.9525" x2="304.5" y2="623.9525" stroke="#6aaa3c" stroke-width="1.0" stroke-opacity="0.8"/>
<line x1="369.623976865217" y1="585.5" x2="369.623976865217" y2="593.5" stroke="#6aaa3c" stroke-width="1.0" stroke-opacity="0.8"/>
<line x1="367.123976865217" y1="585.5" x2="372.123976865217" y2="585.5" stroke="#6aaa3c" stroke-width="1.0" stroke-opacity="0.8"/>
<line x1="367.123976865217" y1="593.5" x2="372.123976865217" y2="593.5" stroke="#6aaa3c" stroke-width="1.0" stroke-opacity="0.8"/>
<line x1="387.00336124877344" y1="567.4" x2="387.00336124877344" y2="579.4" stroke="#6aaa3c" stroke-width="1.0" stroke-opacity="0.8"/>
<line x1="384.50336124877344" y1="567.4" x2="389.50336124877344" y2="567.4" stroke="#6aaa3c" stroke-width="1.0" stroke-opacity="0.8"/>
<line x1="384.50336124877344" y1="579.4" x2="389.50336124877344" y2="579.4" stroke="#6aaa3c" stroke-width="1.0" stroke-opacity="0.8"/>
<line x1="404.3426889990187" y1="551" x2="404.3426889990187" y2="563" stroke="#6aaa3c" stroke-width="1.0" stroke-opacity="0.8"/>
<line x1="401.8426889990187" y1="551" x2="406.8426889990187" y2="551" stroke="#6aaa3c" stroke-width="1.0" stroke-opacity="0.8"/>
<line x1="401.8426889990187" y1="563" x2="406.8426889990187" y2="563" stroke="#6aaa3c" stroke-width="1.0" stroke-opacity="0.8"/>
<line x1="421.68201674926405" y1="536.1" x2="421.68201674926405" y2="546.1" stroke="#6aaa3c" stroke-width="1.0" stroke-opacity="0.8"/>
<line x1="419.18201674926405" y1="536.1" x2="424.18201674926405" y2="536.1" stroke="#6aaa3c" stroke-width="1.0" stroke-opacity="0.8"/>
<line x1="419.18201674926405" y1="546.1" x2="424.18201674926405" y2="546.1" stroke="#6aaa3c" stroke-width="1.0" stroke-opacity="0.8"/>
<line x1="439.0213444995094" y1="533.3" x2="439.0213444995094" y2="538.3" stroke="#6aaa3c" stroke-width="1.0" stroke-opacity="0.8"/>
<line x1="436.5213444995094" y1="533.3" x2="441.5213444995094" y2="533.3" stroke="#6aaa3c" stroke-width="1.0" stroke-opacity="0.8"/>
<line x1="436.5213444995094" y1="538.3" x2="441.5213444995094" y2="538.3" stroke="#6aaa3c" stroke-width="1.0" stroke-opacity="0.8"/>
<line x1="456.36067224975466" y1="536.4" x2="456.36067224975466" y2="544.4" stroke="#6aaa3c" stroke-width="1.0" stroke-opacity="0.8"/>
<line x1="453.86067224975466" y1="536.4" x2="458.86067224975466" y2="536.4" stroke="#6aaa3c" stroke-width="1.0" stroke-opacity="0.8"/>
<line x1="453.86067224975466" y1="544.4" x2="458.86067224975466" y2="544.4" stroke="#6aaa3c" stroke-width="1.0" stroke-opacity="0.8"/>
<polyline points="302.0,618.0 369.6,589.5 387.0,573.4 404.3,557.0 421.7,541.1 439.0,535.8 456.4,540.4" fill="none" stroke="#6aaa3c" stroke-width="1.6" stroke-linejoin="round"/>
<polygon points="302.0,615.85 299.70,619.65 304.30,619.65" fill="#6aaa3c"/>
<polygon points="369.623976865217,587.40 367.32,591.20 371.92,591.20" fill="#6aaa3c"/>
<polygon points="387.00336124877344,571.30 384.70,575.10 389.30,575.10" fill="#6aaa3c"/>
<polygon points="404.3426889990187,554.90 402.04,558.70 406.64,558.70" fill="#6aaa3c"/>
<polygon points="421.68201674926405,539.00 419.38,542.80 423.98,542.80" fill="#6aaa3c"/>
<polygon points="439.0213444995094,533.70 436.72,537.50 441.32,537.50" fill="#6aaa3c"/>
<polygon points="456.36067224975466,538.30 454.06,542.10 458.66,542.10" fill="#6aaa3c"/>
<line x1="302.0" y1="591.975" x2="302.0" y2="611.975" stroke="#2c4a80" stroke-width="1.0" stroke-opacity="0.8"/>
<line x1="299.5" y1="591.975" x2="304.5" y2="591.975" stroke="#2c4a80" stroke-width="1.0" stroke-opacity="0.8"/>
<line x1="299.5" y1="611.975" x2="304.5" y2="611.975" stroke="#2c4a80" stroke-width="1.0" stroke-opacity="0.8"/>
<line x1="369.623976865217" y1="582.6" x2="369.623976865217" y2="600.6" stroke="#2c4a80" stroke-width="1.0" stroke-opacity="0.8"/>
<line x1="367.123976865217" y1="582.6" x2="372.123976865217" y2="582.6" stroke="#2c4a80" stroke-width="1.0" stroke-opacity="0.8"/>
<line x1="367.123976865217" y1="600.6" x2="372.123976865217" y2="600.6" stroke="#2c4a80" stroke-width="1.0" stroke-opacity="0.8"/>
<line x1="387.00336124877344" y1="572.7" x2="387.00336124877344" y2="596.7" stroke="#2c4a80" stroke-width="1.0" stroke-opacity="0.8"/>
<line x1="384.50336124877344" y1="572.7" x2="389.50336124877344" y2="572.7" stroke="#2c4a80" stroke-width="1.0" stroke-opacity="0.8"/>
<line x1="384.50336124877344" y1="596.7" x2="389.50336124877344" y2="596.7" stroke="#2c4a80" stroke-width="1.0" stroke-opacity="0.8"/>
<line x1="404.3426889990187" y1="559.5" x2="404.3426889990187" y2="584.9000000000001" stroke="#2c4a80" stroke-width="1.0" stroke-opacity="0.8"/>
<line x1="401.8426889990187" y1="559.5" x2="406.8426889990187" y2="559.5" stroke="#2c4a80" stroke-width="1.0" stroke-opacity="0.8"/>
<line x1="401.8426889990187" y1="584.9000000000001" x2="406.8426889990187" y2="584.9000000000001" stroke="#2c4a80" stroke-width="1.0" stroke-opacity="0.8"/>
<line x1="421.68201674926405" y1="547.9" x2="421.68201674926405" y2="568.9" stroke="#2c4a80" stroke-width="1.0" stroke-opacity="0.8"/>
<line x1="419.18201674926405" y1="547.9" x2="424.18201674926405" y2="547.9" stroke="#2c4a80" stroke-width="1.0" stroke-opacity="0.8"/>
<line x1="419.18201674926405" y1="568.9" x2="424.18201674926405" y2="568.9" stroke="#2c4a80" stroke-width="1.0" stroke-opacity="0.8"/>
<line x1="439.0213444995094" y1="555.6999999999999" x2="439.0213444995094" y2="568.1" stroke="#2c4a80" stroke-width="1.0" stroke-opacity="0.8"/>
<line x1="436.5213444995094" y1="555.6999999999999" x2="441.5213444995094" y2="555.6999999999999" stroke="#2c4a80" stroke-width="1.0" stroke-opacity="0.8"/>
<line x1="436.5213444995094" y1="568.1" x2="441.5213444995094" y2="568.1" stroke="#2c4a80" stroke-width="1.0" stroke-opacity="0.8"/>
<line x1="456.36067224975466" y1="558.0999999999999" x2="456.36067224975466" y2="572.5" stroke="#2c4a80" stroke-width="1.0" stroke-opacity="0.8"/>
<line x1="453.86067224975466" y1="558.0999999999999" x2="458.86067224975466" y2="558.0999999999999" stroke="#2c4a80" stroke-width="1.0" stroke-opacity="0.8"/>
<line x1="453.86067224975466" y1="572.5" x2="458.86067224975466" y2="572.5" stroke="#2c4a80" stroke-width="1.0" stroke-opacity="0.8"/>
<polyline points="302.0,602.0 369.6,591.6 387.0,584.7 404.3,572.2 421.7,558.4 439.0,561.9 456.4,565.3" fill="none" stroke="#2c4a80" stroke-width="1.6" stroke-linejoin="round"/>
<circle cx="302.0" cy="601.975" r="1.90" fill="#2c4a80"/>
<circle cx="369.623976865217" cy="591.6" r="1.90" fill="#2c4a80"/>
<circle cx="387.00336124877344" cy="584.7" r="1.90" fill="#2c4a80"/>
<circle cx="404.3426889990187" cy="572.2" r="1.90" fill="#2c4a80"/>
<circle cx="421.68201674926405" cy="558.4" r="1.90" fill="#2c4a80"/>
<circle cx="439.0213444995094" cy="561.9" r="1.90" fill="#2c4a80"/>
<circle cx="456.36067224975466" cy="565.3" r="1.90" fill="#2c4a80"/>
<rect x="0" y="0" width="520" height="1.3" fill="#0d0d0d"/>
<rect x="0" y="669.3" width="520" height="1.7" fill="#1c1c1c"/>
<rect x="518.6" y="0" width="1.4" height="671" fill="#0d0d0d"/>
<rect x="0" y="0" width="1.5" height="671" fill="#383838"/>
</svg></body></html>
